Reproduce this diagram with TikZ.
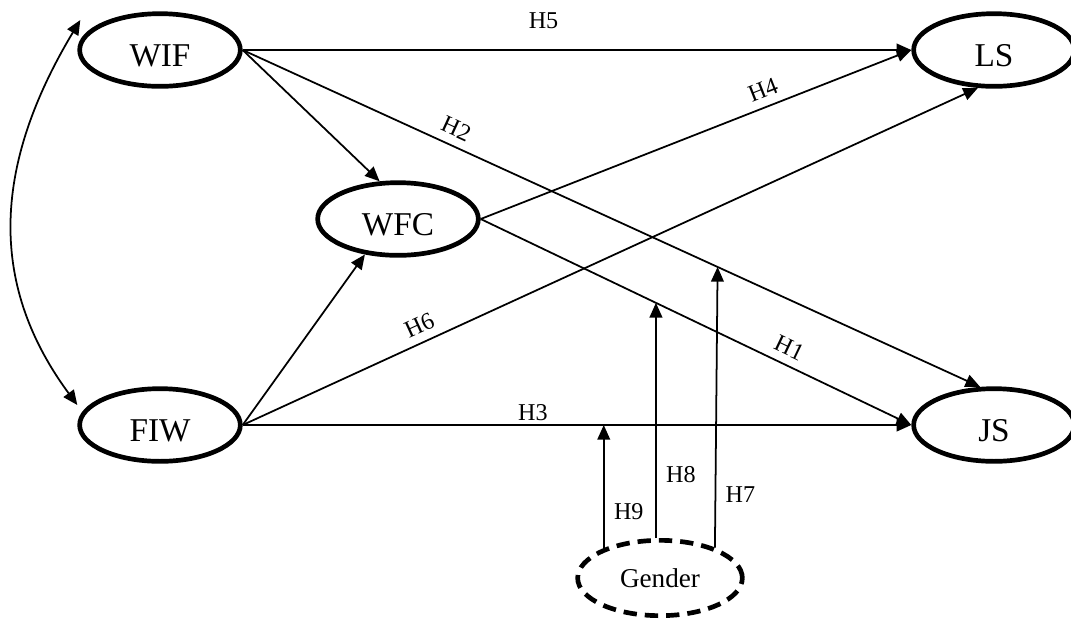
\documentclass[tikz,border=0pt]{standalone}
\usepackage{fontspec}
\setmainfont{Liberation Serif}
\usetikzlibrary{arrows.meta,shapes.geometric}

\begin{document}
\begin{tikzpicture}[x=0.015cm,y=-0.015cm,>={Triangle[length=0.22cm,width=0.19cm]},construct/.style={draw,ellipse,line width=2pt,minimum width=2.41cm,minimum height=1.09cm,text height=0.5cm,font=\fontsize{14.2}{16}\selectfont},moderator/.style={draw,ellipse,line width=2pt,dash pattern=on 0.2cm off 0.12cm,minimum width=2.47cm,minimum height=1.13cm,font=\fontsize{11.6}{14}\selectfont},hpath/.style={->,line width=0.75pt},hlabel/.style={font=\fontsize{10.3}{12}\selectfont,sloped,above,inner sep=3.5pt},mlabel/.style={font=\fontsize{10.3}{12}\selectfont,right,inner sep=4pt}]
  \useasboundingbox (0,0) rectangle (1071,619);
  \node[construct] (WIF) at (160,50) {WIF};
  \node[construct] (LS) at (994,50) {LS};
  \node[construct] (WFC) at (398,219) {WFC};
  \node[construct] (FIW) at (160,425) {FIW};
  \node[construct] (JS) at (994,425) {JS};
  \node[moderator] (gender) at (660,578) {Gender};
  \draw[<->,line width=0.75pt] ([shift={(3,-30)}]WIF.west) .. controls +(-90,150) and +(-87,-118) .. ([shift={(0,-20)}]FIW.west);
  \draw[hpath] (WIF.east) -- node[hlabel,pos=0.45,yshift=5pt] {H5} (LS.west);
  \draw[hpath] (WIF.east) -- node[hlabel,pos=0.28] {H2} coordinate[pos=0.644] (h7) (JS.110);
  \draw[hpath] (WIF.east) -- (WFC.116);
  \draw[hpath] (FIW.east) -- (WFC.227);
  \draw[hpath] (WFC.east) -- node[hlabel,pos=0.67] {H4} (LS.west);
  \draw[hpath] (WFC.east) -- node[hlabel,pos=0.70] {H1} coordinate[pos=0.407] (h8) (JS.west);
  \draw[hpath] (FIW.east) -- node[hlabel,pos=0.25] {H6} (LS.247);
  \draw[hpath] (FIW.east) -- node[hlabel,pos=0.434,inner sep=1.5pt] {H3} (JS.west);
  \draw[hpath] (gender.152) -- node[mlabel,pos=0.3] {H9} (gender.152 |- FIW.east);
  \draw[hpath] (h8 |- gender.north) -- node[mlabel,pos=0.27] {H8} (h8);
  \draw[hpath] (gender.29) -- node[mlabel,pos=0.19] {H7} (h7);
\end{tikzpicture}
\end{document}
